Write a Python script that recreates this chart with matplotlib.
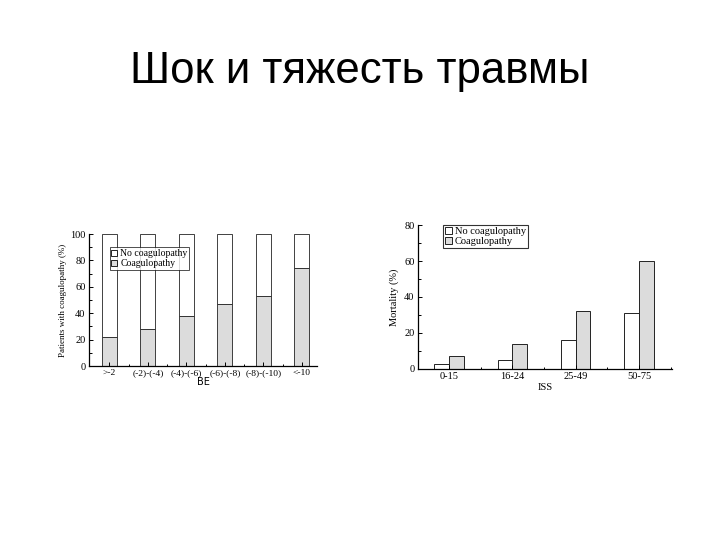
import matplotlib
matplotlib.use("Agg")
import matplotlib.pyplot as plt
import numpy as np
from matplotlib.patches import Patch

# left chart: coagulopathy share by base excess
be_groups = [">-2", "(-2)-(-4)", "(-4)-(-6)", "(-6)-(-8)", "(-8)-(-10)", "<-10"]
coag_pct = [22, 28, 38, 47, 53, 74]
no_coag_pct = [78, 72, 62, 53, 47, 26]

# right chart: mortality by injury severity score
iss_groups = ["0-15", "16-24", "25-49", "50-75"]
mort_no_coag = [3, 5, 16, 31]
mort_coag = [7, 14, 32, 60]

serif = "Liberation Serif"
gray = "#dcdcdc"
edge = "#222222"

fig = plt.figure(figsize=(7.2, 5.4), dpi=100)
fig.text(0.5, 0.868, "Шок и тяжесть травмы", ha="center", va="center",
         fontsize=31.5, family="Liberation Sans")


def style_axes(ax):
    for s in ("top", "right"):
        ax.spines[s].set_visible(False)
    for s in ("left", "bottom"):
        ax.spines[s].set_linewidth(0.9)
    ax.tick_params(which="both", direction="in", labelsize=7.5, width=0.7)
    ax.tick_params(which="major", length=3, pad=2.5)
    ax.tick_params(which="minor", length=1.8)
    for lbl in ax.get_xticklabels() + ax.get_yticklabels():
        lbl.set_family(serif)


# ---- left chart
ax1 = fig.add_axes([89 / 720, 1 - 366 / 540, (317 - 89) / 720, (366 - 234) / 540])
x1 = np.arange(len(be_groups))
ax1.bar(x1, coag_pct, width=0.39, color=gray, edgecolor=edge, linewidth=0.6)
ax1.bar(x1, no_coag_pct, width=0.39, bottom=coag_pct, color="white",
        edgecolor=edge, linewidth=0.6)
ax1.set_xlim(-0.53, 5.39)
ax1.set_ylim(0, 100)
ax1.set_xticks(x1)
ax1.set_xticklabels(be_groups)
ax1.set_xticks(x1[:-1] + 0.5, minor=True)
ax1.set_yticks(np.arange(0, 101, 20))
ax1.set_yticks(np.arange(10, 100, 20), minor=True)
ax1.tick_params(axis="x", which="major", length=0)
style_axes(ax1)
ax1.tick_params(axis="x", labelsize=6.8)
ax1.set_xlabel("BE", fontsize=7, family="DejaVu Sans", labelpad=0)
ax1.set_ylabel("Patients with coagulopathy (%)", fontsize=6.5, family=serif, labelpad=2)
handles = [Patch(facecolor="white", edgecolor="black", linewidth=0.6),
           Patch(facecolor=gray, edgecolor="black", linewidth=0.6)]
leg1 = ax1.legend(handles, ["No coagulopathy", "Coagulopathy"],
                  loc="upper left", bbox_to_anchor=(0.09, 0.9),
                  prop={"family": serif, "size": 7}, frameon=True,
                  fancybox=False, edgecolor="black", handlelength=0.6,
                  handleheight=0.6, handletextpad=0.3, borderpad=0.2,
                  labelspacing=0.1, borderaxespad=0)
leg1.get_frame().set_linewidth(0.6)

# ---- right chart
ax2 = fig.add_axes([418 / 720, 1 - 369 / 540, (672 - 418) / 720, (369 - 225) / 540])
x2 = np.arange(len(iss_groups))
w = 0.23
ax2.bar(x2 - w / 2, mort_no_coag, width=w, color="white", edgecolor=edge, linewidth=0.7)
ax2.bar(x2 + w / 2, mort_coag, width=w, color=gray, edgecolor=edge, linewidth=0.7)
ax2.set_xlim(-0.49, 3.52)
ax2.set_ylim(0, 80)
ax2.set_xticks(x2)
ax2.set_xticklabels(iss_groups)
ax2.set_xticks(x2 + 0.5, minor=True)
ax2.set_yticks(np.arange(0, 81, 20))
ax2.set_yticks(np.arange(10, 80, 20), minor=True)
ax2.tick_params(axis="x", which="major", length=0)
style_axes(ax2)
ax2.set_xlabel("ISS", fontsize=7.5, family=serif, labelpad=1)
ax2.set_ylabel("Mortality (%)", fontsize=7.5, family=serif, labelpad=4)
leg2 = ax2.legend(handles, ["No coagulopathy", "Coagulopathy"],
                  loc="upper left", bbox_to_anchor=(0.1, 1.0),
                  prop={"family": serif, "size": 7.5}, frameon=True,
                  fancybox=False, edgecolor="black", handlelength=0.6,
                  handleheight=0.6, handletextpad=0.3, borderpad=0.2,
                  labelspacing=0.1, borderaxespad=0)
leg2.get_frame().set_linewidth(0.8)

fig.savefig("out.png", dpi=100)
